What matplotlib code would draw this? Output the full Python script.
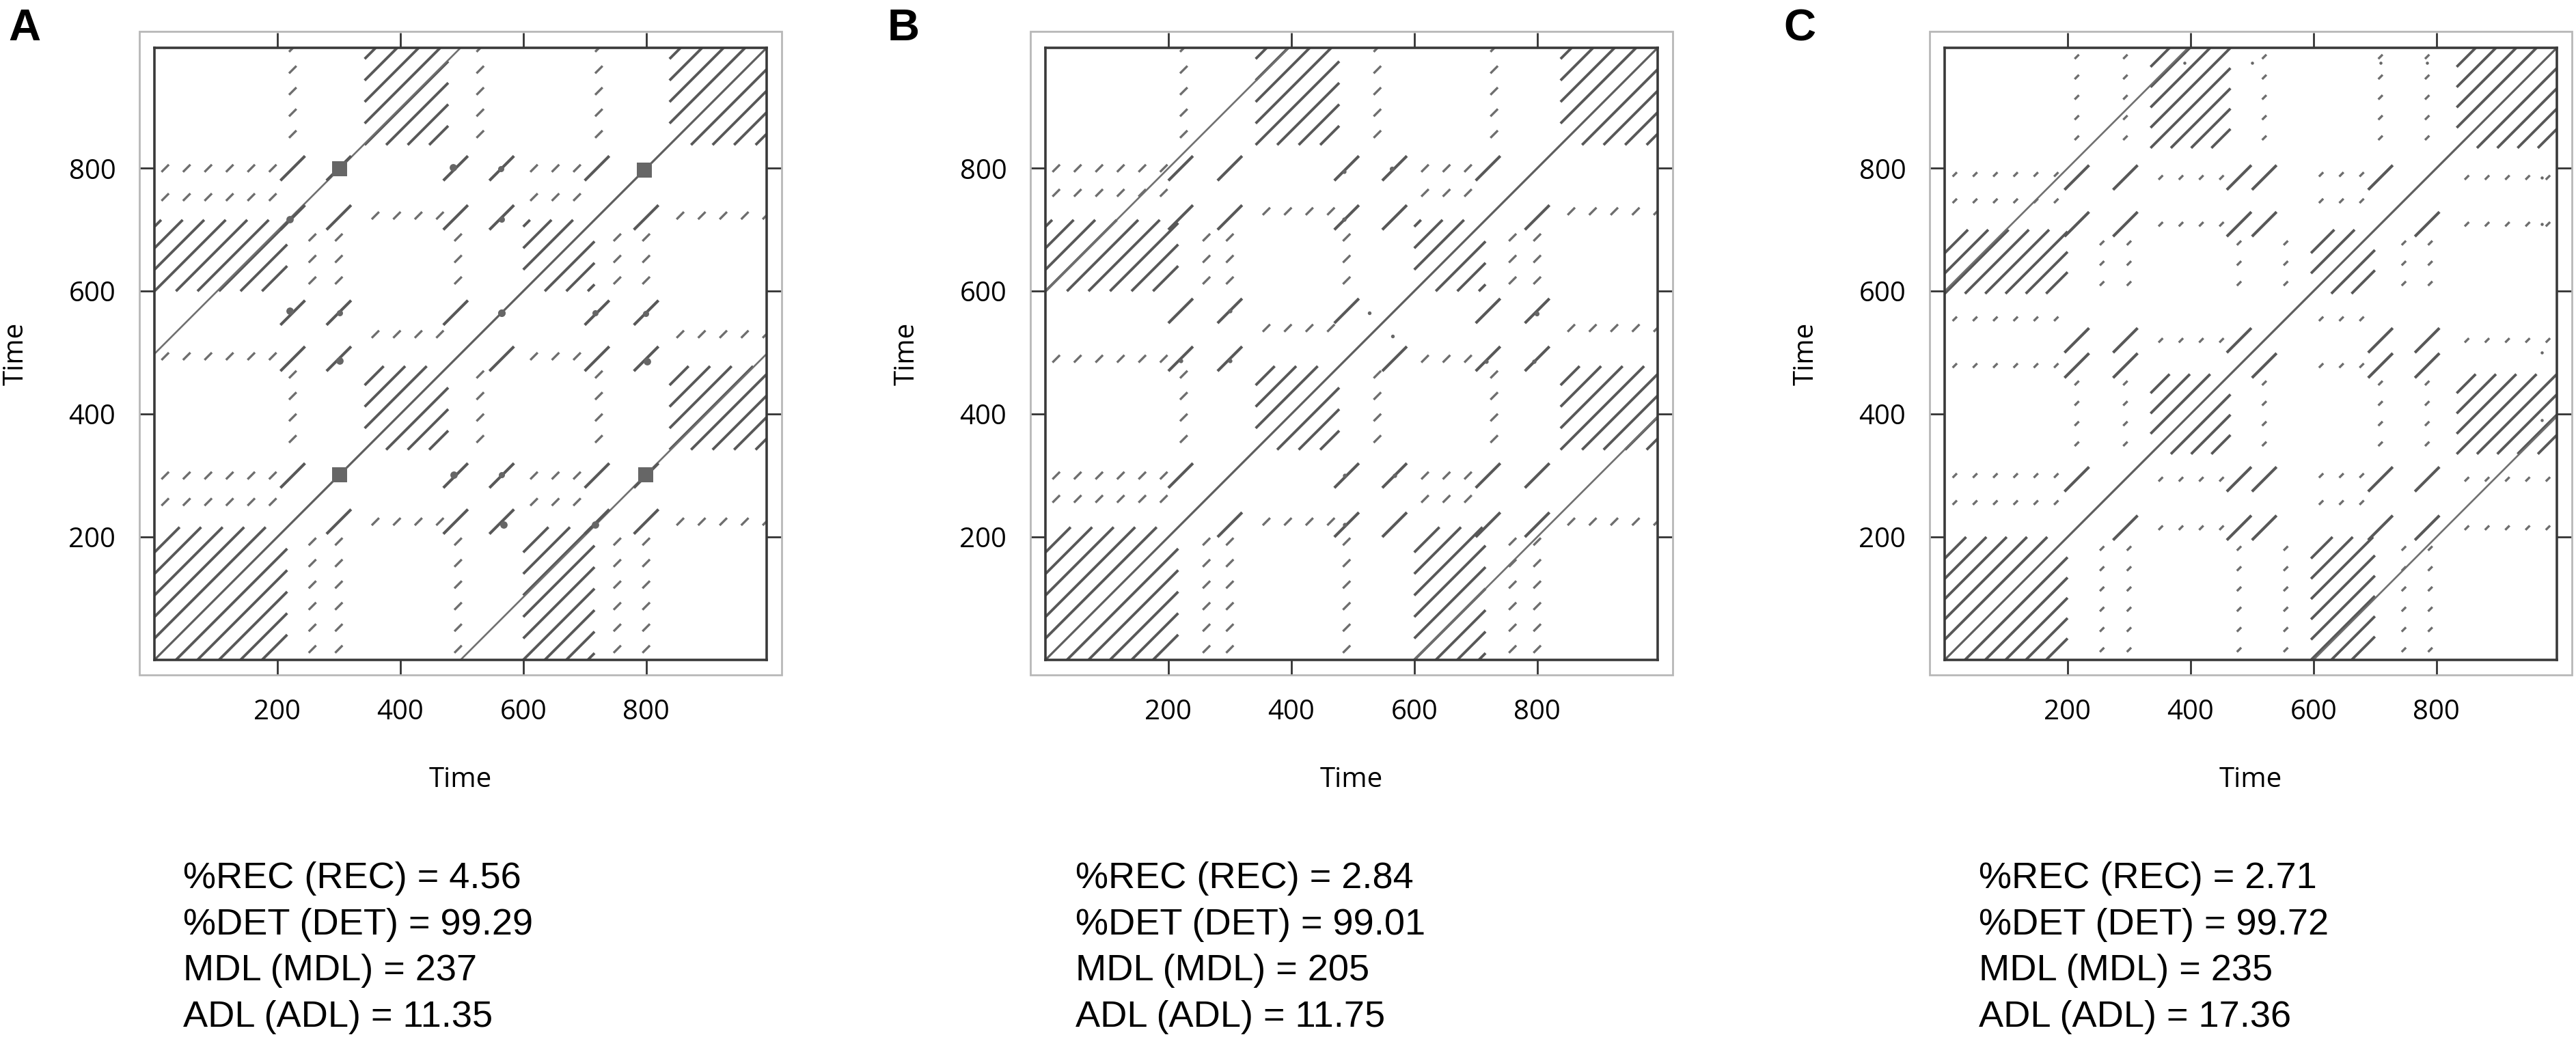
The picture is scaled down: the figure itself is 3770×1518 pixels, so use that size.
import numpy as np
import matplotlib.pyplot as plt
from matplotlib.collections import LineCollection
from matplotlib.patches import Rectangle

plt.rcParams['font.family'] = ['Open Sans', 'DejaVu Sans']

W, H, DPI = 3770, 1518, 100

panel_labels = ['A', 'B', 'C']
ticks = [200, 400, 600, 800]
t_max = 996

# windows of the fast oscillation (two kinds per panel)
win1_A = [(0, 216), (600, 716)]
win2_A = [(342, 478), (838, 996)]
win1_B = [(0, 216), (600, 716)]
win2_B = [(342, 478), (838, 996)]
win1_C = [(0, 200), (596, 700)]
win2_C = [(335, 465), (833, 996)]
step_A, step_B, step_C = 35, 35, 33

# long off-diagonal lines: (x start, offset y-x, length)
long_A = [(0, 498, 498)]
long_B = [(0, 600, 396)]
long_C = [(0, 600, 396)]

# times that recur with each other (short segments at each pair)
events_A = [225, 300, 490, 565, 720, 800]
events_B = [220, 300, 490, 568, 720, 800]
events_C = [215, 294, 479, 520, 709, 785]

# times whose rows / columns of dashes cross the oscillation windows
cross1_A = [257, 300, 494, 753, 800]
cross2_A = [225, 530, 723]
cross1_B = [262, 300, 490, 760, 800]
cross2_B = [225, 540, 730]
cross1_C = [256, 300, 479, 555, 747, 790]
cross2_C = [215, 294, 520, 709, 785]
dash_A, dash_B, dash_C = 12, 12, 7

# dark spots (x, y, size)
blobs_A = [(301, 301, 24), (797, 797, 24), (301, 799, 24), (220, 568, 12), (301, 565, 10),
           (486, 802, 12), (564, 799, 10), (301, 487, 12), (565, 717, 10), (220, 717, 12),
           (565, 565, 12)]
blobs_B = [(300, 568, 7), (220, 487, 7), (300, 487, 7), (486, 717, 7), (564, 799, 8),
           (486, 795, 7), (527, 565, 6)]
blobs_C = [(390, 972, 5), (500, 972, 5), (709, 972, 5), (785, 972, 5)]

stat_names = ['%REC (REC)', '%DET (DET)', 'MDL (MDL)', 'ADL (ADL)']
stats_A = ['4.56', '99.29', '237', '11.35']
stats_B = ['2.84', '99.01', '205', '11.75']
stats_C = ['2.71', '99.72', '235', '17.36']

panels = [
    (win1_A, win2_A, step_A, long_A, events_A, cross1_A, cross2_A, dash_A, blobs_A, stats_A),
    (win1_B, win2_B, step_B, long_B, events_B, cross1_B, cross2_B, dash_B, blobs_B, stats_B),
    (win1_C, win2_C, step_C, long_C, events_C, cross1_C, cross2_C, dash_C, blobs_C, stats_C),
]

ax_left = [226, 1530, 2846]
letter_x = [12, 1299, 2610]
stats_x = [268, 1574, 2896]
ax_top, ax_size = 70, 896
ink = '#585858'


def hatch(wins, step):
    segs = []
    for i, (a0, a1) in enumerate(wins):
        for (b0, b1) in wins[i:]:
            c0 = b0 - a0
            cmin, cmax = b0 - a1, b1 - a0
            k0 = int(np.ceil((cmin - c0) / step))
            k1 = int(np.floor((cmax - c0) / step))
            for k in range(k0, k1 + 1):
                c = c0 + k * step
                if c0 == 0 and c <= 0:
                    continue
                xa, xb = max(a0, b0 - c), min(a1, b1 - c)
                if xb - xa > 6:
                    segs.append([(xa, xa + c), (xb, xb + c)])
    return segs


def mirror(segs):
    return segs + [[(p[1], p[0]) for p in s] for s in segs]


fig = plt.figure(figsize=(W / DPI, H / DPI), dpi=DPI)

for n, (win1, win2, step, longs, events, cross1, cross2, dash, blobs, stats) in enumerate(panels):
    x0 = ax_left[n]
    ax = fig.add_axes([x0 / W, 1 - (ax_top + ax_size) / H, ax_size / W, ax_size / H])
    ax.set_xlim(0, t_max)
    ax.set_ylim(0, t_max)

    # hatched blocks
    hs = mirror(hatch(win1, step) + hatch(win2, step))
    ax.add_collection(LineCollection(hs, colors=ink, linewidths=2.8))

    # long lines
    ls = [[(xs, xs + c), (xs + L, xs + c + L)] for xs, c, L in longs]
    ax.add_collection(LineCollection(mirror(ls), colors='#707070', linewidths=1.9))
    ax.plot([0, t_max], [0, t_max], color='#5e5e5e', lw=2.3)

    # short segments where events meet
    seg_len = 40
    es = []
    for i in range(len(events)):
        for j in range(i + 1, len(events)):
            ex, ey = events[i], events[j]
            es.append([(ex - seg_len / 2, ey - seg_len / 2), (ex + seg_len / 2, ey + seg_len / 2)])
    ax.add_collection(LineCollection(mirror(es), colors=ink, linewidths=3.0))

    # dashes where events cross the oscillation windows
    ds = []
    for cross, wins in ((cross1, win1), (cross2, win2)):
        for e in cross:
            for (w0, w1) in wins:
                if w0 <= e <= w1:
                    continue
                for y in np.arange(w0 + step / 2, w1, step):
                    ds.append([(e - dash / 2, y - dash / 2), (e + dash / 2, y + dash / 2)])
    ax.add_collection(LineCollection(mirror(ds), colors='#6e6e6e', linewidths=2.4))

    # spots
    bx = [b[0] for b in blobs] + [b[1] for b in blobs]
    by = [b[1] for b in blobs] + [b[0] for b in blobs]
    bs = [(b[2] * 0.9 * 0.72) ** 2 for b in blobs] * 2
    mk = ['s' if b[2] >= 20 else 'o' for b in blobs] * 2
    for xx, yy, ss, mm in zip(bx, by, bs, mk):
        ax.scatter(xx, yy, s=ss, marker=mm, color='#666666', lw=0, zorder=3)

    ax.set_xticks(ticks)
    ax.set_yticks(ticks)
    ax.tick_params(direction='out', length=15.8, width=2, color='#333333',
                   top=True, right=True, labeltop=False, labelright=False,
                   labelsize=29, pad=25)
    for sp in ax.spines.values():
        sp.set_linewidth(2.6)
        sp.set_color('#3a3a3a')

    ax.text(0.5, (ax_size - (1152 - ax_top)) / ax_size, 'Time', transform=ax.transAxes,
            ha='center', va='baseline', fontsize=29)
    ax.text((34 - 226) / ax_size, 0.5, 'Time', transform=ax.transAxes, rotation=90,
            rotation_mode='anchor', ha='center', va='baseline', fontsize=29)

    # light outer frame
    fig.add_artist(Rectangle(((x0 - 22) / W, 1 - 988 / H), (ax_size + 44) / W, (988 - 46) / H,
                             transform=fig.transFigure, fill=False, ec='#b8b8b8', lw=2))

    fig.text(letter_x[n] / W, 1 - 12 / H, panel_labels[n], fontsize=47, weight='bold',
             family=['Liberation Sans', 'DejaVu Sans'], va='top', ha='left')

    for k, (name, val) in enumerate(zip(stat_names, stats)):
        fig.text(stats_x[n] / W, 1 - (1300 + 67.7 * k) / H, f'{name} = {val}', fontsize=39,
                 family=['Liberation Sans', 'DejaVu Sans'], va='baseline', ha='left')

fig.savefig('out.png', dpi=DPI)
